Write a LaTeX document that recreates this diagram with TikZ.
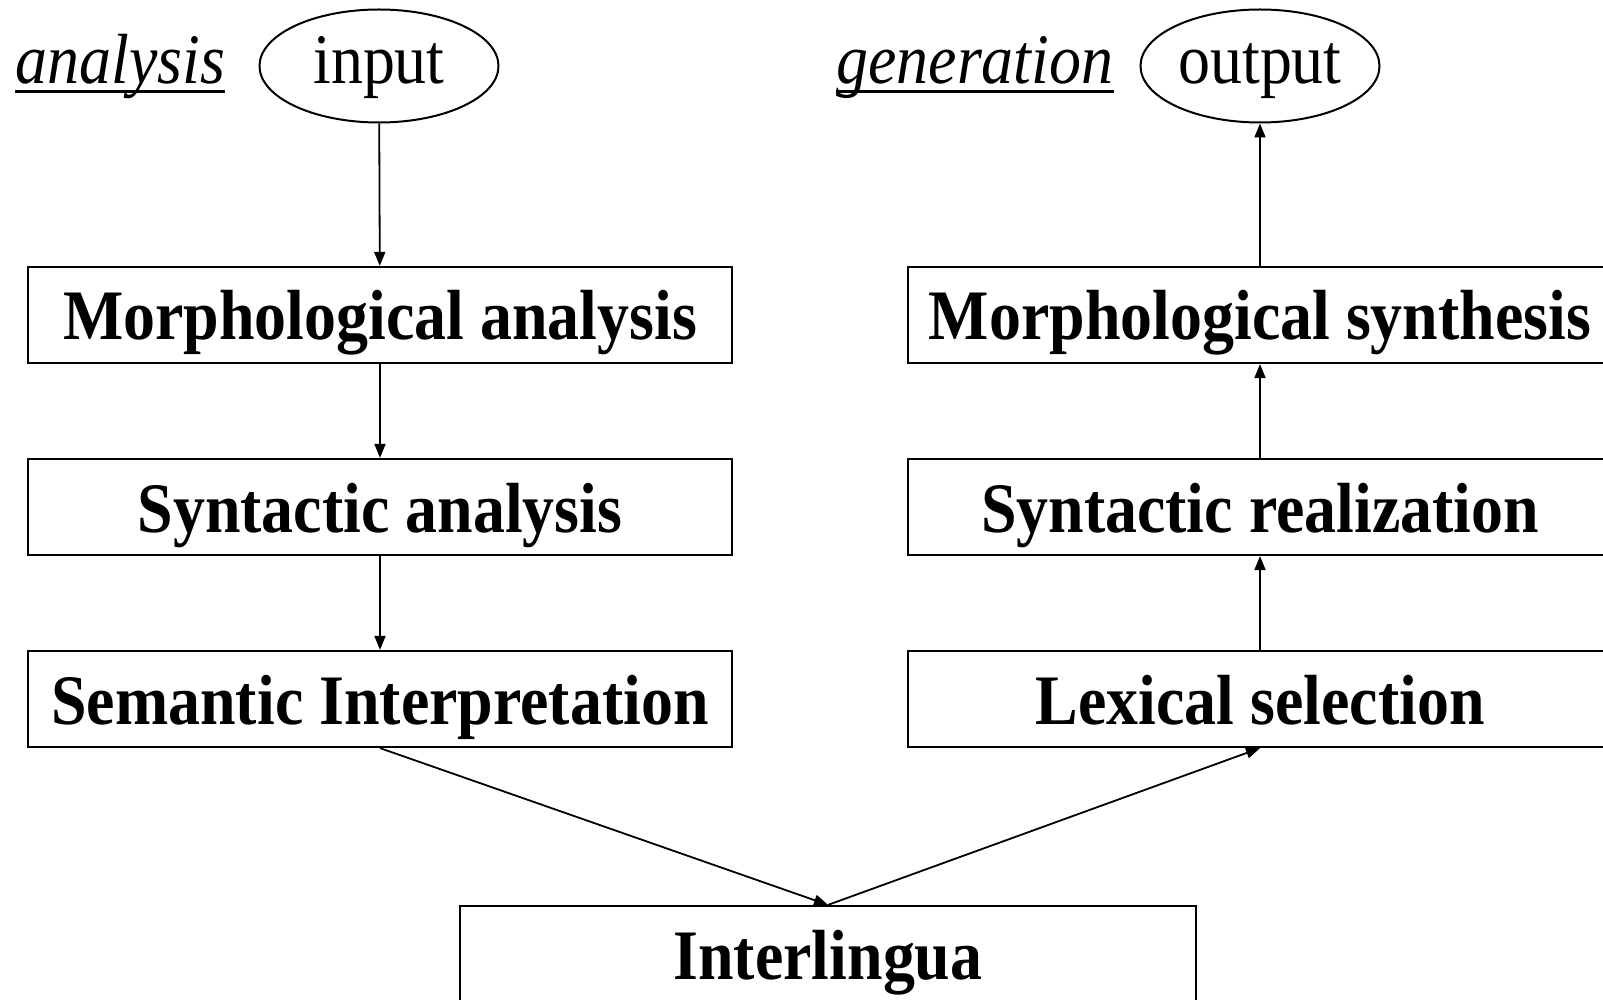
\documentclass[tikz,border=0pt]{standalone}
\usepackage{fontspec}
\setmainfont{Liberation Serif}[FakeStretch=0.9]
\usepackage{tikz}
\usetikzlibrary{arrows.meta, positioning, shapes.geometric}

\begin{document}
\begin{tikzpicture}[x=0.5pt, y=-0.5pt,
    every node/.style={font=\fontsize{35.5}{40}\selectfont},
    stage/.style={rectangle, draw, line width=1.1pt, minimum width=352pt, minimum height=48pt, inner sep=0pt, text height=27pt, text depth=2pt, font=\fontsize{35.5}{40}\selectfont\bfseries},
    io/.style={ellipse, draw, line width=1pt, minimum width=119.5pt, minimum height=56.5pt, inner sep=0pt, text height=22pt, text depth=4pt},
    tag/.style={anchor=base west, inner sep=0pt, font=\fontsize{35.5}{40}\selectfont\itshape},
    uline/.style={line width=1.5pt},
    flow/.style={-{Triangle[length=7pt, width=5.5pt]}, line width=0.9pt}]
          \useasboundingbox (0,0) rectangle (1603,1000);

          % analysis side
          \node[tag] (TA) at (15,84) {analysis};
          \node[io] (In) at (379,66) {input};
          \node[stage] (MA) at (380,315) {Morphological analysis};
          \node[stage] (SA) at (380,507) {Syntactic analysis};
          \node[stage] (SI) at (380,699) {Semantic Interpretation};

          % generation side
          \node[tag] (TG) at (836,84) {generation};
          \node[io] (Out) at (1260,66) {output};
          \node[stage] (MS) at (1260,315) {Morphological synthesis};
          \node[stage] (SR) at (1260,507) {Syntactic realization};
          \node[stage] (LS) at (1260,699) {Lexical selection};

          \node[stage, minimum width=368pt] (IL) at (828,954) {Interlingua};

          \draw[uline] ([yshift=-4pt]TA.base west) -- ([yshift=-4pt]TA.base east);
          \draw[uline] ([yshift=-4pt]TG.base west) -- ([yshift=-4pt]TG.base east);

          \draw[flow] (In) -- (MA);
          \draw[flow] (MA) -- (SA);
          \draw[flow] (SA) -- (SI);
          \draw[flow] (SI.south) -- (IL.north);
          \draw[flow] (IL.north) -- (LS.south);
          \draw[flow] (LS) -- (SR);
          \draw[flow] (SR) -- (MS);
          \draw[flow] (MS) -- (Out);
        \end{tikzpicture}
\end{document}
